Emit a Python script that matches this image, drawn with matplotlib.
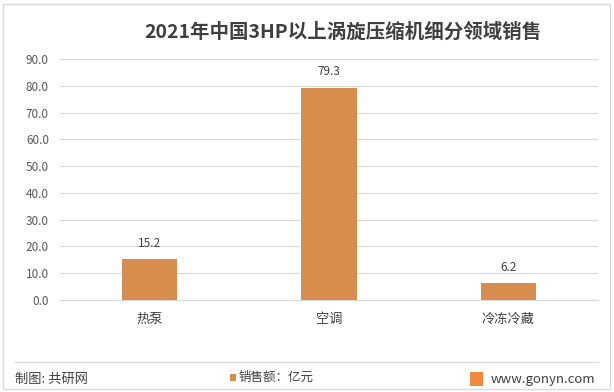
import matplotlib
matplotlib.use("Agg")
import matplotlib.pyplot as plt
from matplotlib.patches import Rectangle
from matplotlib.lines import Line2D

plt.rcParams['font.family'] = ['Noto Sans CJK SC', 'DejaVu Sans']

categories = ["热泵", "空调", "冷冻冷藏"]
values = [15.2, 79.3, 6.2]
yticks = [0, 10, 20, 30, 40, 50, 60, 70, 80, 90]
title = "2021年中国3HP以上涡旋压缩机细分领域销售"
legend_label = "销售额：亿元"

bar_color = "#D68D4E"
text_color = "#595959"

fig = plt.figure(figsize=(6.14, 3.92), dpi=100)
ax = fig.add_axes([60/614, 1-300/392, 538/614, 241/392])

x = list(range(len(categories)))
ax.bar(x, values, width=0.31, color=bar_color, zorder=3)
for xi, v in zip(x, values):
    ax.text(xi, v + 3.5, f"{v:.1f}", ha='center', va='bottom', fontsize=8.5,
            color='#404040', fontweight='medium')

ax.set_xlim(-0.5, len(categories) - 0.5)
ax.set_ylim(0, 90)
ax.set_yticks(yticks)
ax.set_yticklabels([f"{t:.1f}" for t in yticks], fontsize=8.5, color=text_color)
ax.set_xticks(x)
ax.set_xticklabels(categories, fontsize=9.5, color='#404040')
ax.tick_params(axis='both', length=0, pad=8)
ax.tick_params(axis='x', pad=9)
ax.grid(axis='y', color='#D9D9D9', linewidth=0.8, zorder=0)
for s in ['top', 'right', 'left']:
    ax.spines[s].set_visible(False)
ax.spines['bottom'].set_color('#D9D9D9')

fig.text(343/614, 1-32/392, title, ha='center', va='center', fontsize=14, fontweight='bold', color='#404040')

# outer border
fig.add_artist(Rectangle((3/614, 3/392), 607/614, 385/392, transform=fig.transFigure,
                         fill=False, edgecolor='#D9D9D9', linewidth=1))
# separator line
fig.add_artist(Line2D([15/614, 598/614], [1-362/392, 1-362/392], transform=fig.transFigure,
                      color='#D9D9D9', linewidth=0.8))

fig.text(15/614, 1-379/392, "制图: 共研网", ha='left', va='center', fontsize=9.5, color='#404040')
fig.add_artist(Rectangle((230/614, 1-381/392), 6/614, 7/392, transform=fig.transFigure,
                         facecolor=bar_color, edgecolor='none'))
fig.text(239/614, 1-377/392, legend_label, ha='left', va='center', fontsize=9, color='#404040')
fig.add_artist(Rectangle((470/614, 1-386/392), 13/614, 14/392, transform=fig.transFigure,
                         facecolor='#F08A3C', edgecolor='none'))
fig.text(491/614, 1-379/392, "www.gonyn.com", ha='left', va='center', fontsize=9.5, color='#404040')

fig.savefig("out.png", dpi=100)
